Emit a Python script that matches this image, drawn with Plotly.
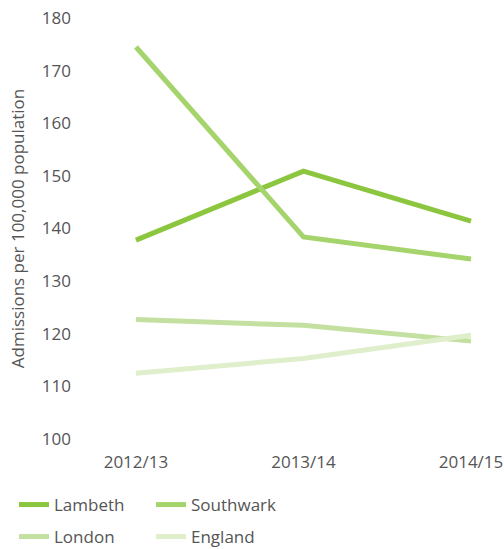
import plotly.graph_objects as go

years = ["2012/13", "2013/14", "2014/15"]
series_names = ["Lambeth", "Southwark", "London", "England"]
lambeth = [137.8, 150.9, 141.4]
southwark = [174.5, 138.4, 134.2]
london = [122.7, 121.6, 118.6]
england = [112.5, 115.3, 119.7]
colors = ["#8cc63f", "#a6d46c", "#c3e0a0", "#dfeecb"]
legend_ids = ["legend", "legend", "legend2", "legend2"]
y_ticks = [100, 110, 120, 130, 140, 150, 160, 170, 180]

W, H = 504, 549

fig = go.Figure()
for name, vals, col, lg in zip(series_names, [lambeth, southwark, london, england], colors, legend_ids):
    fig.add_trace(go.Scatter(x=years, y=vals, name=name, mode="lines",
                             line=dict(color=col, width=5), legend=lg))

font_fam = "Open Sans, sans-serif"
txt = "#555555"
leg_common = dict(orientation="h", xref="container", yref="container",
                  xanchor="left", yanchor="middle",
                  entrywidth=92, entrywidthmode="pixels",
                  font=dict(size=17, color=txt, family=font_fam),
                  itemwidth=30, bgcolor="rgba(0,0,0,0)")
fig.update_layout(
    width=W, height=H,
    margin=dict(l=80, r=0, t=18, b=110),
    paper_bgcolor="white", plot_bgcolor="white",
    font=dict(family=font_fam, size=17, color=txt),
    showlegend=True,
    legend=dict(x=14 / W, y=(H - 505) / H, **leg_common),
    legend2=dict(x=14 / W, y=(H - 537) / H, **leg_common),
    xaxis=dict(type="category", range=[-0.334, 2.197], showgrid=False, zeroline=False,
               showline=False, ticks="", ticklabelstandoff=11, automargin=False,
               tickfont=dict(size=17, color=txt)),
    yaxis=dict(range=[100, 180.01], tickvals=y_ticks, showgrid=False, zeroline=False,
               showline=False, ticks="", ticklabelstandoff=8, automargin=False,
               ticklabeloverflow="allow",
               tickfont=dict(size=17, color=txt),
               title=dict(text="Admissions per 100,000 population",
                          font=dict(size=17, color=txt), standoff=12)),
)

fig.write_html("out.html", config={"displayModeBar": False},
               post_script="document.body.style.margin='0';document.body.style.overflow='hidden';")
